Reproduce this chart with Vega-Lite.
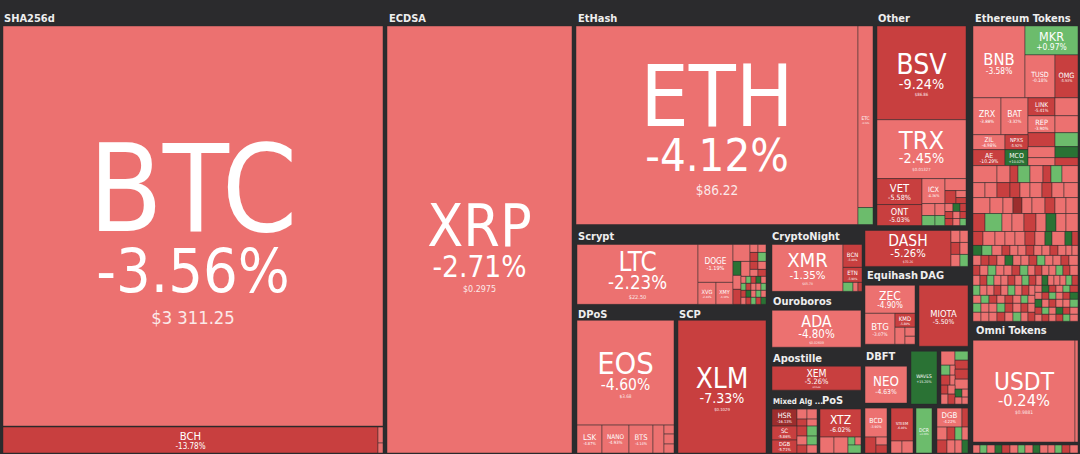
{
"$schema": "https://vega.github.io/schema/vega-lite/v6.json",
"width": 1080, "height": 454,
"autosize": {"type": "fit", "contains": "padding"},
"padding": 0,
"background": "#2b2b2d",
"config": {"view": {"stroke": null}},
"datasets": {
"tiles": [
{"s":"BTC","p":-3.56,"pr":"$3 311.25","x0":3,"x1":383,"y0":26,"y1":427},
{"s":"BCH","p":-13.78,"x0":3,"x1":378,"y0":428,"y1":454},
{"p":-3.1,"x0":378,"x1":383,"y0":428,"y1":444},
{"p":-4.0,"x0":378,"x1":383,"y0":444,"y1":454},
{"s":"XRP","p":-2.71,"pr":"$0.2975","x0":387,"x1":572,"y0":26,"y1":454},
{"s":"ETH","p":-4.12,"pr":"$86.22","x0":576,"x1":858,"y0":26,"y1":225},
{"s":"ETC","p":-3.40,"x0":858,"x1":873,"y0":26,"y1":208},
{"p":2.1,"x0":858,"x1":873,"y0":208,"y1":225},
{"s":"BSV","p":-9.24,"pr":"$86.86","x0":877,"x1":966,"y0":26,"y1":120},
{"s":"TRX","p":-2.45,"pr":"$0.01327","x0":877,"x1":966,"y0":120,"y1":179},
{"s":"VET","p":-5.58,"x0":877,"x1":922,"y0":179,"y1":205},
{"s":"ONT","p":-5.03,"x0":877,"x1":922,"y0":205,"y1":226},
{"s":"ICX","p":-4.36,"x0":922,"x1":945,"y0":179,"y1":204},
{"p":-4.1,"x0":945,"x1":966,"y0":179,"y1":191},
{"p":-5.9,"x0":945,"x1":956,"y0":191,"y1":204},
{"p":-4.5,"x0":956,"x1":966,"y0":191,"y1":198},
{"p":-6.2,"x0":956,"x1":966,"y0":198,"y1":204},
{"p":-4.2,"x0":922,"x1":935,"y0":204,"y1":216},
{"p":-4.6,"x0":935,"x1":945,"y0":204,"y1":216},
{"p":2.5,"x0":922,"x1":935,"y0":216,"y1":226},
{"p":1.8,"x0":935,"x1":945,"y0":216,"y1":226},
{"p":-3.5,"x0":945,"x1":953,"y0":204,"y1":212},
{"p":6.0,"x0":953,"x1":960,"y0":204,"y1":212},
{"p":-5.5,"x0":960,"x1":966,"y0":204,"y1":212},
{"p":-6.5,"x0":945,"x1":953,"y0":212,"y1":219},
{"p":-4.0,"x0":953,"x1":960,"y0":212,"y1":219},
{"p":-5.8,"x0":960,"x1":966,"y0":212,"y1":219},
{"p":-5.2,"x0":945,"x1":953,"y0":219,"y1":226},
{"p":-4.4,"x0":953,"x1":960,"y0":219,"y1":226},
{"p":1.3,"x0":960,"x1":966,"y0":219,"y1":226},
{"s":"BNB","p":-3.58,"x0":973,"x1":1025,"y0":26,"y1":98},
{"s":"MKR","p":0.97,"x0":1025,"x1":1078,"y0":26,"y1":55},
{"s":"TUSD","p":-0.18,"x0":1025,"x1":1055,"y0":55,"y1":98},
{"s":"OMG","p":-5.93,"x0":1055,"x1":1078,"y0":55,"y1":98},
{"s":"ZRX","p":-3.88,"x0":973,"x1":1001,"y0":98,"y1":135},
{"s":"BAT","p":-3.32,"x0":1001,"x1":1028,"y0":98,"y1":135},
{"s":"LINK","p":-5.41,"x0":1028,"x1":1055,"y0":98,"y1":116},
{"p":-1.98,"x0":1055,"x1":1078,"y0":98,"y1":116},
{"s":"REP","p":-3.90,"x0":1028,"x1":1055,"y0":116,"y1":133},
{"p":-2.9,"x0":1055,"x1":1078,"y0":116,"y1":133},
{"p":-7.9,"x0":1028,"x1":1055,"y0":133,"y1":147},
{"p":1.2,"x0":1055,"x1":1078,"y0":133,"y1":147},
{"s":"ZIL","p":-4.98,"x0":973,"x1":1005,"y0":135,"y1":150},
{"s":"NPXS","p":-5.92,"x0":1005,"x1":1028,"y0":135,"y1":150},
{"s":"AE","p":-10.29,"x0":973,"x1":1005,"y0":150,"y1":166},
{"s":"MCO","p":10.02,"x0":1005,"x1":1028,"y0":150,"y1":166},
{"p":-4.1,"x0":1028,"x1":1055,"y0":147,"y1":158},
{"p":5.8,"x0":1055,"x1":1078,"y0":147,"y1":158},
{"p":-3.7,"x0":1028,"x1":1055,"y0":158,"y1":166},
{"p":-6.27,"x0":1055,"x1":1078,"y0":158,"y1":166},
{"p":-4.2,"x0":973,"x1":997,"y0":166,"y1":183},
{"p":-4.6,"x0":997,"x1":1010,"y0":166,"y1":183},
{"p":-5.6,"x0":1010,"x1":1018,"y0":166,"y1":183},
{"p":1.5,"x0":1018,"x1":1030,"y0":166,"y1":183},
{"p":-3.8,"x0":1030,"x1":1043,"y0":166,"y1":183},
{"p":-6.1,"x0":1043,"x1":1051,"y0":166,"y1":183},
{"p":1.3,"x0":1051,"x1":1062,"y0":166,"y1":183},
{"p":-4.4,"x0":1062,"x1":1078,"y0":166,"y1":183},
{"p":-4.4,"x0":973,"x1":985,"y0":183,"y1":198},
{"p":-3.9,"x0":985,"x1":997,"y0":183,"y1":198},
{"p":-6.4,"x0":997,"x1":1010,"y0":183,"y1":198},
{"p":-5.8,"x0":1010,"x1":1020,"y0":183,"y1":198},
{"p":-4.9,"x0":1020,"x1":1030,"y0":183,"y1":198},
{"p":-3.3,"x0":1030,"x1":1042,"y0":183,"y1":198},
{"p":-6.8,"x0":1042,"x1":1052,"y0":183,"y1":198},
{"p":-4.1,"x0":1052,"x1":1064,"y0":183,"y1":198},
{"p":-2.6,"x0":1064,"x1":1078,"y0":183,"y1":198},
{"p":-4.0,"x0":973,"x1":990,"y0":198,"y1":214},
{"p":-3.6,"x0":990,"x1":1003,"y0":198,"y1":214},
{"p":-4.8,"x0":1003,"x1":1013,"y0":198,"y1":214},
{"p":-16.2,"x0":1013,"x1":1022,"y0":198,"y1":214},
{"p":-4.3,"x0":1022,"x1":1032,"y0":198,"y1":214},
{"p":-3.5,"x0":1032,"x1":1045,"y0":198,"y1":214},
{"p":-5.4,"x0":1045,"x1":1055,"y0":198,"y1":214},
{"p":-4.7,"x0":1055,"x1":1066,"y0":198,"y1":214},
{"p":-3.1,"x0":1066,"x1":1078,"y0":198,"y1":214},
{"p":-5.5,"x0":973,"x1":985,"y0":214,"y1":232},
{"p":1.9,"x0":985,"x1":1002,"y0":214,"y1":232},
{"p":-4.3,"x0":1002,"x1":1012,"y0":214,"y1":232},
{"p":-3.6,"x0":1012,"x1":1024,"y0":214,"y1":232},
{"p":-6.2,"x0":1024,"x1":1036,"y0":214,"y1":232},
{"p":-4.5,"x0":1036,"x1":1046,"y0":214,"y1":232},
{"p":7.2,"x0":1046,"x1":1056,"y0":214,"y1":232},
{"p":-4.8,"x0":1056,"x1":1066,"y0":214,"y1":232},
{"p":-3.9,"x0":1066,"x1":1078,"y0":214,"y1":232},
{"p":-6.5,"x0":973,"x1":983,"y0":232,"y1":246},
{"p":-4.1,"x0":983,"x1":995,"y0":232,"y1":246},
{"p":-5.0,"x0":995,"x1":1005,"y0":232,"y1":246},
{"p":-3.7,"x0":1005,"x1":1015,"y0":232,"y1":246},
{"p":-4.6,"x0":1015,"x1":1025,"y0":232,"y1":246},
{"p":-5.9,"x0":1025,"x1":1035,"y0":232,"y1":246},
{"p":-4.2,"x0":1035,"x1":1045,"y0":232,"y1":246},
{"p":6.8,"x0":1045,"x1":1052,"y0":232,"y1":246},
{"p":-4.0,"x0":1052,"x1":1065,"y0":232,"y1":246},
{"p":8.0,"x0":1065,"x1":1072,"y0":232,"y1":246},
{"p":-5.2,"x0":1072,"x1":1078,"y0":232,"y1":246},
{"p":6.5,"x0":973,"x1":982,"y0":246,"y1":256},
{"p":1.0,"x0":982,"x1":992,"y0":246,"y1":256},
{"p":-4.4,"x0":992,"x1":1002,"y0":246,"y1":256},
{"p":-6.2,"x0":1002,"x1":1010,"y0":246,"y1":256},
{"p":-3.7,"x0":1010,"x1":1018,"y0":246,"y1":256},
{"p":-4.9,"x0":1018,"x1":1026,"y0":246,"y1":256},
{"p":-5.6,"x0":1026,"x1":1034,"y0":246,"y1":256},
{"p":-3.9,"x0":1034,"x1":1042,"y0":246,"y1":256},
{"p":-4.2,"x0":1042,"x1":1050,"y0":246,"y1":256},
{"p":-6.8,"x0":1050,"x1":1058,"y0":246,"y1":256},
{"p":-4.5,"x0":1058,"x1":1066,"y0":246,"y1":256},
{"p":-3.6,"x0":1066,"x1":1072,"y0":246,"y1":256},
{"p":-5.0,"x0":1072,"x1":1078,"y0":246,"y1":256},
{"p":-4.1,"x0":973,"x1":981,"y0":256,"y1":266},
{"p":-5.7,"x0":981,"x1":989,"y0":256,"y1":266},
{"p":-6.3,"x0":989,"x1":997,"y0":256,"y1":266},
{"p":-3.8,"x0":997,"x1":1005,"y0":256,"y1":266},
{"p":6.6,"x0":1005,"x1":1013,"y0":256,"y1":266},
{"p":-4.0,"x0":1013,"x1":1021,"y0":256,"y1":266},
{"p":-4.7,"x0":1021,"x1":1029,"y0":256,"y1":266},
{"p":-5.5,"x0":1029,"x1":1037,"y0":256,"y1":266},
{"p":1.4,"x0":1037,"x1":1045,"y0":256,"y1":266},
{"p":-4.3,"x0":1045,"x1":1053,"y0":256,"y1":266},
{"p":-3.9,"x0":1053,"x1":1061,"y0":256,"y1":266},
{"p":-6.0,"x0":1061,"x1":1069,"y0":256,"y1":266},
{"p":-4.6,"x0":1069,"x1":1078,"y0":256,"y1":266},
{"p":-5.3,"x0":973,"x1":980,"y0":266,"y1":276},
{"p":-4.2,"x0":980,"x1":988,"y0":266,"y1":276},
{"p":1.2,"x0":988,"x1":996,"y0":266,"y1":276},
{"p":-4.8,"x0":996,"x1":1004,"y0":266,"y1":276},
{"p":-3.5,"x0":1004,"x1":1012,"y0":266,"y1":276},
{"p":-6.6,"x0":1012,"x1":1020,"y0":266,"y1":276},
{"p":1.7,"x0":1020,"x1":1028,"y0":266,"y1":276},
{"p":-4.4,"x0":1028,"x1":1035,"y0":266,"y1":276},
{"p":-5.1,"x0":1035,"x1":1042,"y0":266,"y1":276},
{"p":-3.7,"x0":1042,"x1":1049,"y0":266,"y1":276},
{"p":-4.9,"x0":1049,"x1":1056,"y0":266,"y1":276},
{"p":0.8,"x0":1056,"x1":1063,"y0":266,"y1":276},
{"p":-5.8,"x0":1063,"x1":1070,"y0":266,"y1":276},
{"p":-4.1,"x0":1070,"x1":1078,"y0":266,"y1":276},
{"p":-4.6,"x0":973,"x1":980,"y0":276,"y1":286},
{"p":-6.1,"x0":980,"x1":987,"y0":276,"y1":286},
{"p":1.5,"x0":987,"x1":994,"y0":276,"y1":286},
{"p":-4.3,"x0":994,"x1":1001,"y0":276,"y1":286},
{"p":-3.9,"x0":1001,"x1":1008,"y0":276,"y1":286},
{"p":-5.4,"x0":1008,"x1":1015,"y0":276,"y1":286},
{"p":-4.7,"x0":1015,"x1":1022,"y0":276,"y1":286},
{"p":2.2,"x0":1022,"x1":1029,"y0":276,"y1":286},
{"p":-6.9,"x0":1029,"x1":1036,"y0":276,"y1":286},
{"p":-4.2,"x0":1036,"x1":1042,"y0":276,"y1":286},
{"p":5.9,"x0":1042,"x1":1048,"y0":276,"y1":286},
{"p":-3.6,"x0":1048,"x1":1054,"y0":276,"y1":286},
{"p":-5.0,"x0":1054,"x1":1060,"y0":276,"y1":286},
{"p":-4.4,"x0":1060,"x1":1066,"y0":276,"y1":286},
{"p":1.1,"x0":1066,"x1":1072,"y0":276,"y1":286},
{"p":-6.2,"x0":1072,"x1":1078,"y0":276,"y1":286},
{"p":1.3,"x0":973,"x1":980,"y0":286,"y1":296},
{"p":-4.8,"x0":980,"x1":987,"y0":286,"y1":296},
{"p":-3.7,"x0":987,"x1":994,"y0":286,"y1":296},
{"p":-5.6,"x0":994,"x1":1001,"y0":286,"y1":296},
{"p":-4.1,"x0":1001,"x1":1008,"y0":286,"y1":296},
{"p":1.8,"x0":1008,"x1":1015,"y0":286,"y1":296},
{"p":-4.5,"x0":1015,"x1":1022,"y0":286,"y1":296},
{"p":-6.0,"x0":1022,"x1":1029,"y0":286,"y1":296},
{"p":-3.8,"x0":1029,"x1":1035,"y0":286,"y1":296},
{"p":-4.3,"x0":973,"x1":981,"y0":296,"y1":304},
{"p":1.6,"x0":981,"x1":989,"y0":296,"y1":304},
{"p":-5.2,"x0":989,"x1":997,"y0":296,"y1":304},
{"p":-4.0,"x0":997,"x1":1005,"y0":296,"y1":304},
{"p":-6.4,"x0":1005,"x1":1013,"y0":296,"y1":304},
{"p":-3.9,"x0":1013,"x1":1021,"y0":296,"y1":304},
{"p":1.0,"x0":1021,"x1":1028,"y0":296,"y1":304},
{"p":-4.7,"x0":1028,"x1":1035,"y0":296,"y1":304},
{"p":2.0,"x0":973,"x1":981,"y0":304,"y1":313},
{"p":-4.6,"x0":981,"x1":989,"y0":304,"y1":313},
{"p":-3.5,"x0":989,"x1":997,"y0":304,"y1":313},
{"p":1.4,"x0":997,"x1":1005,"y0":304,"y1":313},
{"p":-5.1,"x0":1005,"x1":1013,"y0":304,"y1":313},
{"p":-4.2,"x0":1013,"x1":1021,"y0":304,"y1":313},
{"p":-6.7,"x0":1021,"x1":1028,"y0":304,"y1":313},
{"p":-4.0,"x0":1028,"x1":1035,"y0":304,"y1":313},
{"p":-5.0,"x0":973,"x1":981,"y0":313,"y1":322},
{"p":-4.1,"x0":981,"x1":989,"y0":313,"y1":322},
{"p":-3.8,"x0":989,"x1":997,"y0":313,"y1":322},
{"p":-6.0,"x0":997,"x1":1005,"y0":313,"y1":322},
{"p":-4.4,"x0":1005,"x1":1013,"y0":313,"y1":322},
{"p":1.2,"x0":1013,"x1":1021,"y0":313,"y1":322},
{"p":-4.9,"x0":1021,"x1":1028,"y0":313,"y1":322},
{"p":-5.7,"x0":1028,"x1":1035,"y0":313,"y1":322},
{"p":-4.5,"x0":1035,"x1":1042,"y0":286,"y1":293},
{"p":6.1,"x0":1042,"x1":1049,"y0":286,"y1":293},
{"p":-5.9,"x0":1049,"x1":1056,"y0":286,"y1":293},
{"p":-3.8,"x0":1056,"x1":1063,"y0":286,"y1":293},
{"p":1.2,"x0":1063,"x1":1070,"y0":286,"y1":293},
{"p":-6.4,"x0":1070,"x1":1078,"y0":286,"y1":293},
{"p":-3.9,"x0":1035,"x1":1042,"y0":293,"y1":300},
{"p":-5.2,"x0":1042,"x1":1049,"y0":293,"y1":300},
{"p":1.5,"x0":1049,"x1":1056,"y0":293,"y1":300},
{"p":-4.6,"x0":1056,"x1":1063,"y0":293,"y1":300},
{"p":-7.0,"x0":1063,"x1":1070,"y0":293,"y1":300},
{"p":5.8,"x0":1070,"x1":1078,"y0":293,"y1":300},
{"p":6.4,"x0":1035,"x1":1042,"y0":300,"y1":308},
{"p":-4.1,"x0":1042,"x1":1049,"y0":300,"y1":308},
{"p":-6.3,"x0":1049,"x1":1056,"y0":300,"y1":308},
{"p":-3.7,"x0":1056,"x1":1063,"y0":300,"y1":308},
{"p":-4.9,"x0":1063,"x1":1070,"y0":300,"y1":308},
{"p":1.9,"x0":1070,"x1":1078,"y0":300,"y1":308},
{"p":-5.5,"x0":1035,"x1":1042,"y0":308,"y1":315},
{"p":1.1,"x0":1042,"x1":1049,"y0":308,"y1":315},
{"p":-4.2,"x0":1049,"x1":1056,"y0":308,"y1":315},
{"p":7.1,"x0":1056,"x1":1063,"y0":308,"y1":315},
{"p":-5.8,"x0":1063,"x1":1070,"y0":308,"y1":315},
{"p":-4.0,"x0":1070,"x1":1078,"y0":308,"y1":315},
{"p":-4.8,"x0":1035,"x1":1042,"y0":315,"y1":322},
{"p":-6.7,"x0":1042,"x1":1049,"y0":315,"y1":322},
{"p":-3.6,"x0":1049,"x1":1056,"y0":315,"y1":322},
{"p":-5.1,"x0":1056,"x1":1063,"y0":315,"y1":322},
{"p":1.4,"x0":1063,"x1":1070,"y0":315,"y1":322},
{"p":-4.3,"x0":1070,"x1":1078,"y0":315,"y1":322},
{"s":"USDT","p":-0.24,"pr":"$0.9881","x0":973,"x1":1075,"y0":341,"y1":443},
{"p":-1.1,"x0":1075,"x1":1078,"y0":341,"y1":443},
{"p":-5.0,"x0":973,"x1":980,"y0":446,"y1":454},
{"p":1.5,"x0":980,"x1":987,"y0":446,"y1":454},
{"p":-4.0,"x0":987,"x1":995,"y0":446,"y1":454},
{"p":6.0,"x0":995,"x1":1002,"y0":446,"y1":454},
{"p":-6.0,"x0":1002,"x1":1010,"y0":446,"y1":454},
{"p":-4.0,"x0":1010,"x1":1018,"y0":446,"y1":454},
{"p":1.0,"x0":1018,"x1":1025,"y0":446,"y1":454},
{"p":-5.0,"x0":1025,"x1":1033,"y0":446,"y1":454},
{"p":7.0,"x0":1033,"x1":1040,"y0":446,"y1":454},
{"p":-3.8,"x0":1040,"x1":1048,"y0":446,"y1":454},
{"p":-4.5,"x0":1048,"x1":1055,"y0":446,"y1":454},
{"p":1.3,"x0":1055,"x1":1062,"y0":446,"y1":454},
{"p":-5.5,"x0":1062,"x1":1070,"y0":446,"y1":454},
{"p":-4.2,"x0":1070,"x1":1078,"y0":446,"y1":454},
{"s":"LTC","p":-2.23,"pr":"$22.50","x0":577,"x1":698,"y0":245,"y1":305},
{"s":"DOGE","p":-1.19,"x0":698,"x1":733,"y0":245,"y1":283},
{"s":"XVG","p":-2.40,"x0":698,"x1":716,"y0":283,"y1":305},
{"s":"XMY","p":-3.10,"x0":716,"x1":733,"y0":283,"y1":305},
{"p":-3.8,"x0":733,"x1":750,"y0":245,"y1":262},
{"p":-4.2,"x0":750,"x1":758,"y0":245,"y1":253},
{"p":-3.5,"x0":758,"x1":766,"y0":245,"y1":253},
{"p":-5.6,"x0":750,"x1":758,"y0":253,"y1":262},
{"p":1.5,"x0":758,"x1":766,"y0":253,"y1":262},
{"p":7.0,"x0":733,"x1":741,"y0":262,"y1":276},
{"p":-4.4,"x0":741,"x1":750,"y0":262,"y1":277},
{"p":-6.1,"x0":750,"x1":758,"y0":262,"y1":270},
{"p":-4.0,"x0":758,"x1":766,"y0":262,"y1":270},
{"p":-3.9,"x0":750,"x1":758,"y0":270,"y1":277},
{"p":-5.2,"x0":758,"x1":766,"y0":270,"y1":277},
{"p":-4.6,"x0":733,"x1":741,"y0":276,"y1":290},
{"p":-5.3,"x0":733,"x1":741,"y0":290,"y1":305},
{"p":-4.2,"x0":741,"x1":746,"y0":277,"y1":284},
{"p":1.5,"x0":746,"x1":751,"y0":277,"y1":284},
{"p":-6.1,"x0":751,"x1":756,"y0":277,"y1":284},
{"p":6.2,"x0":756,"x1":761,"y0":277,"y1":284},
{"p":-4.8,"x0":761,"x1":766,"y0":277,"y1":284},
{"p":1.8,"x0":741,"x1":746,"y0":284,"y1":291},
{"p":-5.4,"x0":746,"x1":751,"y0":284,"y1":291},
{"p":-3.9,"x0":751,"x1":756,"y0":284,"y1":291},
{"p":-4.4,"x0":756,"x1":761,"y0":284,"y1":291},
{"p":1.1,"x0":761,"x1":766,"y0":284,"y1":291},
{"p":-6.5,"x0":741,"x1":746,"y0":291,"y1":298},
{"p":6.0,"x0":746,"x1":751,"y0":291,"y1":298},
{"p":-4.3,"x0":751,"x1":756,"y0":291,"y1":298},
{"p":1.6,"x0":756,"x1":761,"y0":291,"y1":298},
{"p":-5.0,"x0":761,"x1":766,"y0":291,"y1":298},
{"p":-4.0,"x0":741,"x1":746,"y0":298,"y1":305},
{"p":-5.7,"x0":746,"x1":751,"y0":298,"y1":305},
{"p":1.3,"x0":751,"x1":756,"y0":298,"y1":305},
{"p":-6.2,"x0":756,"x1":761,"y0":298,"y1":305},
{"p":5.5,"x0":761,"x1":766,"y0":298,"y1":305},
{"s":"XMR","p":-1.35,"pr":"$45.78","x0":772,"x1":843,"y0":245,"y1":292},
{"s":"BCN","p":-5.40,"x0":843,"x1":862,"y0":245,"y1":268},
{"s":"ETN","p":-5.90,"x0":843,"x1":862,"y0":268,"y1":283},
{"p":1.5,"x0":843,"x1":853,"y0":283,"y1":292},
{"p":-4.2,"x0":853,"x1":858,"y0":283,"y1":292},
{"p":-6.0,"x0":858,"x1":862,"y0":283,"y1":292},
{"s":"ADA","p":-4.80,"pr":"$0.02609","x0":772,"x1":861,"y0":311,"y1":348},
{"s":"XEM","p":-5.26,"pr":"$0.0588","x0":772,"x1":861,"y0":367,"y1":391},
{"s":"HSR","p":-16.13,"x0":772,"x1":797,"y0":410,"y1":427},
{"s":"SC","p":-5.86,"x0":772,"x1":797,"y0":427,"y1":441},
{"s":"DGB","p":-5.71,"x0":772,"x1":797,"y0":441,"y1":454},
{"p":-4.4,"x0":797,"x1":807,"y0":410,"y1":420},
{"p":-3.8,"x0":807,"x1":817,"y0":410,"y1":420},
{"p":-5.2,"x0":797,"x1":807,"y0":420,"y1":427},
{"p":-4.1,"x0":807,"x1":817,"y0":420,"y1":427},
{"p":-6.0,"x0":797,"x1":807,"y0":427,"y1":437},
{"p":1.8,"x0":807,"x1":817,"y0":427,"y1":437},
{"p":-4.5,"x0":797,"x1":807,"y0":437,"y1":446},
{"p":1.2,"x0":807,"x1":817,"y0":437,"y1":446},
{"p":-5.5,"x0":797,"x1":807,"y0":446,"y1":454},
{"p":-4.0,"x0":807,"x1":817,"y0":446,"y1":454},
{"s":"XTZ","p":-6.02,"x0":820,"x1":861,"y0":410,"y1":438},
{"p":-4.2,"x0":820,"x1":834,"y0":438,"y1":454},
{"p":-3.8,"x0":834,"x1":848,"y0":438,"y1":454},
{"p":1.9,"x0":848,"x1":855,"y0":438,"y1":446},
{"p":-5.0,"x0":855,"x1":861,"y0":438,"y1":446},
{"p":1.2,"x0":848,"x1":861,"y0":446,"y1":454},
{"s":"EOS","p":-4.60,"pr":"$3.68","x0":577,"x1":674,"y0":321,"y1":426},
{"s":"LSK","p":-4.87,"x0":577,"x1":602,"y0":426,"y1":454},
{"s":"NANO","p":-4.93,"x0":602,"x1":629,"y0":426,"y1":454},
{"s":"BTS","p":-4.14,"x0":629,"x1":653,"y0":426,"y1":454},
{"p":-4.5,"x0":653,"x1":664,"y0":426,"y1":454},
{"p":-3.9,"x0":664,"x1":674,"y0":426,"y1":435},
{"p":-4.6,"x0":664,"x1":674,"y0":435,"y1":445},
{"p":-4.0,"x0":664,"x1":674,"y0":445,"y1":454},
{"s":"XLM","p":-7.33,"pr":"$0.1029","x0":678,"x1":766,"y0":321,"y1":454},
{"s":"DASH","p":-5.26,"pr":"$70.26","x0":865,"x1":951,"y0":231,"y1":267},
{"p":-4.3,"x0":951,"x1":960,"y0":231,"y1":243},
{"p":-4.8,"x0":960,"x1":968,"y0":231,"y1":243},
{"p":-6.0,"x0":951,"x1":960,"y0":243,"y1":255},
{"p":-3.9,"x0":960,"x1":968,"y0":243,"y1":255},
{"p":-4.6,"x0":951,"x1":960,"y0":255,"y1":267},
{"p":1.4,"x0":960,"x1":968,"y0":255,"y1":267},
{"s":"ZEC","p":-4.90,"x0":865,"x1":915,"y0":286,"y1":314},
{"s":"BTG","p":-3.07,"x0":865,"x1":895,"y0":314,"y1":345},
{"s":"KMD","p":-5.80,"x0":895,"x1":915,"y0":314,"y1":328},
{"p":-4.2,"x0":895,"x1":905,"y0":328,"y1":345},
{"p":-3.6,"x0":905,"x1":915,"y0":328,"y1":337},
{"p":-4.8,"x0":905,"x1":915,"y0":337,"y1":345},
{"s":"MIOTA","p":-5.50,"x0":919,"x1":968,"y0":286,"y1":347},
{"s":"NEO","p":-4.63,"x0":865,"x1":907,"y0":367,"y1":404},
{"s":"WAVES","p":15.20,"x0":911,"x1":937,"y0":352,"y1":405},
{"p":-4.1,"x0":941,"x1":955,"y0":352,"y1":366},
{"p":1.6,"x0":955,"x1":968,"y0":352,"y1":361},
{"p":-5.3,"x0":955,"x1":968,"y0":361,"y1":370},
{"p":1.1,"x0":941,"x1":950,"y0":366,"y1":376},
{"p":-4.6,"x0":950,"x1":955,"y0":366,"y1":376},
{"p":-6.2,"x0":955,"x1":968,"y0":370,"y1":380},
{"p":-5.8,"x0":941,"x1":950,"y0":376,"y1":386},
{"p":-3.9,"x0":950,"x1":955,"y0":376,"y1":386},
{"p":-4.4,"x0":955,"x1":968,"y0":380,"y1":390},
{"p":-6.5,"x0":941,"x1":948,"y0":386,"y1":395},
{"p":-4.0,"x0":948,"x1":955,"y0":386,"y1":395},
{"p":6.3,"x0":955,"x1":962,"y0":390,"y1":398},
{"p":-5.0,"x0":962,"x1":968,"y0":390,"y1":398},
{"p":-4.7,"x0":941,"x1":948,"y0":395,"y1":405},
{"p":-6.1,"x0":948,"x1":955,"y0":395,"y1":405},
{"p":-4.2,"x0":955,"x1":962,"y0":398,"y1":405},
{"p":-3.7,"x0":962,"x1":968,"y0":398,"y1":405},
{"s":"BCD","p":-3.90,"x0":865,"x1":887,"y0":409,"y1":438},
{"p":-5.6,"x0":865,"x1":876,"y0":438,"y1":454},
{"p":-4.4,"x0":876,"x1":887,"y0":438,"y1":446},
{"p":-6.0,"x0":876,"x1":887,"y0":446,"y1":454},
{"s":"STEEM","p":-6.46,"x0":891,"x1":913,"y0":409,"y1":442},
{"p":-5.0,"x0":891,"x1":902,"y0":442,"y1":454},
{"p":-4.4,"x0":902,"x1":913,"y0":442,"y1":454},
{"s":"DCR","p":3.20,"x0":916,"x1":932,"y0":409,"y1":454},
{"s":"DGB","p":-4.22,"x0":937,"x1":962,"y0":409,"y1":428},
{"p":-5.5,"x0":962,"x1":968,"y0":409,"y1":428},
{"p":-4.5,"x0":937,"x1":947,"y0":428,"y1":441},
{"p":-6.2,"x0":947,"x1":955,"y0":428,"y1":441},
{"p":1.4,"x0":955,"x1":962,"y0":428,"y1":441},
{"p":-4.0,"x0":962,"x1":968,"y0":428,"y1":441},
{"p":-5.7,"x0":937,"x1":947,"y0":441,"y1":454},
{"p":-3.9,"x0":947,"x1":955,"y0":441,"y1":454},
{"p":-4.8,"x0":955,"x1":962,"y0":441,"y1":454},
{"p":5.5,"x0":962,"x1":968,"y0":441,"y1":454}
],
"groups": [
{"g":"SHA256d","gx":4,"gy":22,"gw":380},
{"g":"ECDSA","gx":389,"gy":22,"gw":185},
{"g":"EtHash","gx":578,"gy":22,"gw":297},
{"g":"Other","gx":878,"gy":22,"gw":91},
{"g":"Ethereum Tokens","gx":975,"gy":22,"gw":105},
{"g":"Scrypt","gx":578,"gy":241,"gw":189},
{"g":"CryptoNight","gx":772,"gy":241,"gw":90},
{"g":"DPoS","gx":578,"gy":319,"gw":97},
{"g":"SCP","gx":679,"gy":319,"gw":88},
{"g":"Ouroboros","gx":773,"gy":306,"gw":89},
{"g":"Equihash","gx":867,"gy":280,"gw":47},
{"g":"DAG","gx":920,"gy":280,"gw":49},
{"g":"Apostille","gx":773,"gy":363,"gw":89},
{"g":"DBFT","gx":866,"gy":361,"gw":42},
{"g":"Mixed Alg ...","gx":773,"gy":405,"gw":46},
{"g":"PoS","gx":822,"gy":405,"gw":41},
{"g":"Omni Tokens","gx":976,"gy":335,"gw":105}
]
},
"layer": [
{
"data": {"name": "tiles"},
"transform": [
{"calculate": "datum.x1 - datum.x0", "as": "w"},
{"calculate": "datum.y1 - datum.y0", "as": "h"},
{"calculate": "(datum.x0 + datum.x1) / 2", "as": "cx"},
{"calculate": "(datum.y0 + datum.y1) / 2", "as": "cy"},
{"calculate": "datum.s ? datum.s : ''", "as": "sym"},
{"calculate": "max(1, length(datum.sym))", "as": "n"},
{"calculate": "min(0.95 * datum.w / datum.n, 0.43 * datum.h)", "as": "f1"},
{"calculate": "min(0.16 * datum.w, 0.72 * datum.f1)", "as": "f2"},
{"calculate": "datum.pr ? 0.3 * datum.f2 : 0", "as": "f3"},
{"calculate": "0.73 * datum.f1", "as": "A"},
{"calculate": "0.73 * datum.f2", "as": "B"},
{"calculate": "0.73 * datum.f3", "as": "C"},
{"calculate": "0.18 * datum.A + 1", "as": "g1"},
{"calculate": "datum.f3 > 0 ? 0.42 * datum.B : 0", "as": "g2"},
{"calculate": "datum.cy - (datum.A + datum.g1 + datum.B + datum.g2 + datum.C) / 2 + 0.02 * datum.h", "as": "top"},
{"calculate": "datum.top + datum.A", "as": "yb1"},
{"calculate": "datum.yb1 + datum.g1 + datum.B", "as": "yb2"},
{"calculate": "datum.yb2 + datum.g2 + datum.C", "as": "yb3"},
{"calculate": "(datum.p > 0 ? '+' : '-') + format(abs(datum.p), '.2f') + '%'", "as": "pt"}
],
"layer": [
{
"mark": {"type": "rect", "stroke": "#2b2b2d", "strokeWidth": 0.8, "strokeOpacity": 0.6},
"encoding": {
"x": {"field": "x0", "type": "quantitative", "scale": {"domain": [0, 1080], "nice": false, "zero": false}, "axis": null},
"x2": {"field": "x1"},
"y": {"field": "y0", "type": "quantitative", "scale": {"domain": [0, 454], "nice": false, "zero": false, "reverse": true}, "axis": null},
"y2": {"field": "y1"},
"color": {"field": "p", "type": "quantitative", "scale": {"type": "threshold", "domain": [-15, -5, 0, 5], "range": ["#9c2d2d", "#c83f3f", "#ec7170", "#6cbc6c", "#2a7234"]}, "legend": null}
}
},
{
"transform": [{"filter": "datum.sym != '' && datum.f1 >= 3.5"}],
"mark": {"type": "text", "font": "DejaVu Sans Condensed, DejaVu Sans, sans-serif", "baseline": "alphabetic", "align": "center", "color": "#ffffff"},
"encoding": {
"x": {"field": "cx", "type": "quantitative", "scale": {"domain": [0, 1080], "nice": false, "zero": false}, "axis": null},
"y": {"field": "yb1", "type": "quantitative", "scale": {"domain": [0, 454], "nice": false, "zero": false, "reverse": true}, "axis": null},
"text": {"field": "sym"},
"size": {"field": "f1", "type": "quantitative", "scale": null}
}
},
{
"transform": [{"filter": "datum.sym != '' && datum.f1 >= 3.5"}],
"mark": {"type": "text", "font": "DejaVu Sans Condensed, DejaVu Sans, sans-serif", "baseline": "alphabetic", "align": "center", "color": "#ffffff"},
"encoding": {
"x": {"field": "cx", "type": "quantitative", "scale": {"domain": [0, 1080], "nice": false, "zero": false}, "axis": null},
"y": {"field": "yb2", "type": "quantitative", "scale": {"domain": [0, 454], "nice": false, "zero": false, "reverse": true}, "axis": null},
"text": {"field": "pt"},
"size": {"field": "f2", "type": "quantitative", "scale": null}
}
},
{
"transform": [{"filter": "datum.sym != '' && datum.f3 > 0"}],
"mark": {"type": "text", "font": "DejaVu Sans Condensed, DejaVu Sans, sans-serif", "baseline": "alphabetic", "align": "center", "color": "#fbe9e9"},
"encoding": {
"x": {"field": "cx", "type": "quantitative", "scale": {"domain": [0, 1080], "nice": false, "zero": false}, "axis": null},
"y": {"field": "yb3", "type": "quantitative", "scale": {"domain": [0, 454], "nice": false, "zero": false, "reverse": true}, "axis": null},
"text": {"field": "pr"},
"size": {"field": "f3", "type": "quantitative", "scale": null}
}
}
]
},
{
"data": {"name": "groups"},
"transform": [
{"calculate": "min(11, datum.gw / (0.45 * length(datum.g)))", "as": "gf"}
],
"mark": {"type": "text", "font": "DejaVu Sans Condensed, DejaVu Sans, sans-serif", "fontWeight": "bold", "baseline": "alphabetic", "align": "left", "color": "#eeeeee"},
"encoding": {
"x": {"field": "gx", "type": "quantitative", "scale": {"domain": [0, 1080], "nice": false, "zero": false}, "axis": null},
"y": {"field": "gy", "type": "quantitative", "scale": {"domain": [0, 454], "nice": false, "zero": false, "reverse": true}, "axis": null},
"text": {"field": "g"},
"size": {"field": "gf", "type": "quantitative", "scale": null}
}
}
]
}
